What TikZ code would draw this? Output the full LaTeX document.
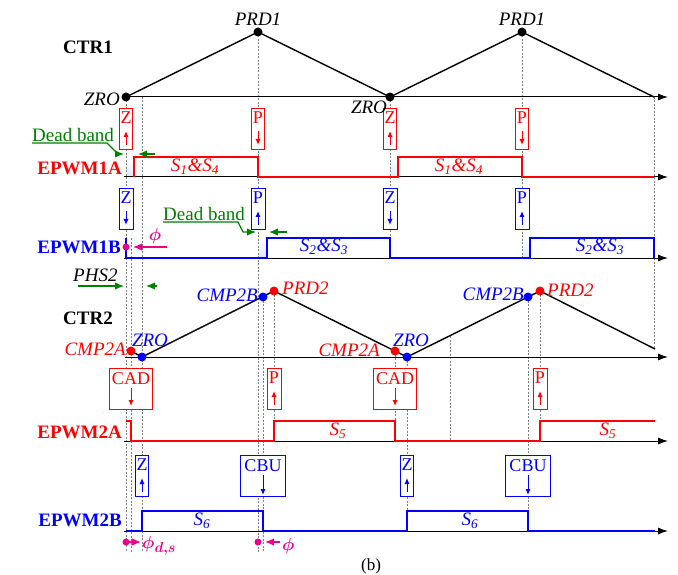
\documentclass[tikz,border=0pt]{standalone}
\usepackage{fontspec}
\setmainfont{Liberation Serif}
\usepackage{bm}
\usetikzlibrary{arrows.meta}
\colorlet{verdure}{green!50!black}

\begin{document}
\begin{tikzpicture}[x=1pt,y=-1pt,
  every node/.style={font=\fontsize{19}{22}\selectfont,inner sep=1pt},
  sig/.style={line width=1.6pt},
  axe/.style={line width=1pt,-{Latex[length=10pt,width=7pt]}},
  guide/.style={gray,line width=0.7pt,dash pattern=on 2pt off 1.5pt},
  evbox/.style={draw,line width=1pt,inner sep=0pt,minimum height=41pt},
  evtip/.style={line width=1pt,-{Latex[length=6pt,width=5pt]}},
  dead/.style={top color=white,bottom color=cyan!25!blue!12},
  fleche/.style={line width=1.3pt,-{Latex[length=9pt,width=7.5pt]}}]

\useasboundingbox (0,0) rectangle (678,575);

% Zones de temps mort
\shade[dead] (126,157) rectangle (134,177);
\shade[dead] (390,157) rectangle (398,177);
\shade[dead] (258,238) rectangle (267,258);
\shade[dead] (522,238) rectangle (530,258);

% Lignes pointillees
\foreach \x/\a/\b in {126/97/552, 131/238/552, 142/97/552, 258/32/552,
  263/297/552, 274/291/441, 390/97/258, 395/351/441, 407/357/531,
  450/336/441, 522/32/258, 528/297/531, 540/291/441, 654/97/349}
  \draw[guide] (\x,\a) -- (\x,\b);

% Axes
\draw[axe] (126,97) -- (668,97);
\draw[axe] (124,177) -- (668,177);
\draw[axe] (124,258) -- (668,258);
\draw[axe] (125,357) -- (668,357);
\draw[axe] (124,441) -- (668,441);
\draw[axe] (124,531) -- (668,531);

% Compteurs
\draw[line width=1.4pt] (126,97) -- (258,32) -- (390,97) -- (522,32) -- (654,97);
\draw[line width=1.4pt] (131,351) -- (142,357) -- (274,291) -- (407,357) -- (540,291) -- (655,349);

% Signaux PWM
\draw[sig,red] (134,177) -- (134,157) -- (258,157) -- (258,177) -- (398,177)
  -- (398,157) -- (522,157) -- (522,177) -- (654,177);
\draw[sig,blue] (126,238) -- (126,258) -- (267,258) -- (267,238) -- (390,238)
  -- (390,258) -- (530,258) -- (530,238) -- (654,238) -- (654,258);
\draw[sig,red] (126,421) -- (131,421) -- (131,441) -- (274,441) -- (274,421)
  -- (395,421) -- (395,441) -- (540,441) -- (540,421) -- (655,421);
\draw[sig,blue] (126,531) -- (142,531) -- (142,511) -- (263,511) -- (263,531)
  -- (407,531) -- (407,511) -- (528,511) -- (528,531) -- (655,531);

% Points des compteurs
\foreach \x/\y in {126/97, 258/32, 390/97, 522/32}
  \fill (\x,\y) circle (4.5);
\foreach \x/\y/\c in {131/351/red, 142/357/blue, 263/297/blue, 274/291/red,
  395/351/red, 407/357/blue, 528/297/blue, 540/291/red}
  \fill[\c] (\x,\y) circle (4.5);

% Evenements
\foreach \x/\y/\w/\c/\t/\s/\e in {126/108/13/red/Z/37/23, 258/108/13/red/P/23/37,
  390/108/13/red/Z/37/23, 522/108/13/red/P/23/37,
  126/188/14/blue/Z/23/37, 258/188/14/blue/P/37/23,
  390/188/14/blue/Z/23/37, 522/188/14/blue/P/37/23,
  131/368/43/red/CAD/20/38, 274/368/14/red/P/37/23,
  395/368/43/red/CAD/20/38, 540/368/14/red/P/37/23,
  142/455/13/blue/Z/37/23, 263/455/45/blue/CBU/20/40,
  407/455/13/blue/Z/37/23, 528/455/45/blue/CBU/20/40}{
  \node[evbox,draw=\c,minimum width=\w pt,anchor=north,fill=white] (b\x-\y) at (\x,\y) {};
  \node[\c,anchor=north,inner sep=0pt,font=\fontsize{18}{20}\selectfont] (t\x-\y) at (\x,\y+4) {\t};
  \draw[evtip,\c] (\x,\y+\s) -- (\x,\y+\e);
}

% Temps morts et dephasage
\node[verdure,anchor=south west,inner sep=0pt] (db1) at (32,142) {Dead band};
\draw[verdure,fleche] (db1.south west) ++(0,1) -- (107,143) -- (118,154) -- (124,154);
\draw[verdure,fleche] (155,154) -- (138,154);
\node[verdure,anchor=south west,inner sep=0pt] (db2) at (163,221) {Dead band};
\draw[verdure,fleche] (db2.south west) ++(0,1) -- (238,222) -- (243,232) -- (256,232);
\draw[verdure,fleche] (287,232) -- (269,232);
\node[anchor=south west,inner sep=0pt] (phs) at (73,282) {\textit{PHS2}};
\draw[verdure,fleche] (78,286) -- (124,286);
\draw[verdure,fleche] (157,286) -- (146,286);

% Angles phi
\fill[magenta] (126,247) circle (3.5);
\draw[magenta,fleche] (167,247) -- (133,247);
\node[magenta] (phi1) at (155,236) {$\bm{\phi}$};
\fill[magenta] (126,542) circle (3.5);
\draw[magenta,fleche] (126,542) -- (141,542);
\node[magenta,anchor=west] (phi2) at (141,546) {$\bm{\phi_{d,s}}$};
\fill[magenta] (258,542) circle (3.5);
\draw[magenta,fleche] (280,542) -- (265,542);
\node[magenta,anchor=west] (phi3) at (281,546) {$\bm{\phi}$};

% Noms des signaux
\node (ctr1) at (88,47) {\bfseries CTR1};
\node (ctr2) at (88,318) {\bfseries CTR2};
\node[red,anchor=east] (pa1) at (123,168) {\bfseries EPWM1A};
\node[blue,anchor=east] (pb1) at (122,247) {\bfseries EPWM1B};
\node[red,anchor=east] (pa2) at (123,432) {\bfseries EPWM2A};
\node[blue,anchor=east] (pb2) at (123,520) {\bfseries EPWM2B};

% Noms des points
\node (prd1a) at (258,19) {\textit{PRD1}};
\node (prd1b) at (522,19) {\textit{PRD1}};
\node[anchor=east] (zro1a) at (121,99) {\textit{ZRO}};
\node (zro1b) at (369,107) {\textit{ZRO}};
\node[red,anchor=east] (cmpa1) at (127,349) {\textit{CMP2A}};
\node[red,anchor=east] (cmpa2) at (381,350) {\textit{CMP2A}};
\node[blue] (zro2a) at (150,340) {\textit{ZRO}};
\node[blue] (zro2b) at (411,340) {\textit{ZRO}};
\node[blue,anchor=east] (cmpb1) at (259,295) {\textit{CMP2B}};
\node[blue,anchor=east] (cmpb2) at (525,294) {\textit{CMP2B}};
\node[red,anchor=west] (prd2a) at (281,288) {\textit{PRD2}};
\node[red,anchor=west] (prd2b) at (546,290) {\textit{PRD2}};

% Etats des interrupteurs
\node[red] (s14a) at (195,167) {\textit{S\textsubscript{1}\&S\textsubscript{4}}};
\node[red] (s14b) at (459,167) {\textit{S\textsubscript{1}\&S\textsubscript{4}}};
\node[blue] (s23a) at (324,247) {\textit{S\textsubscript{2}\&S\textsubscript{3}}};
\node[blue] (s23b) at (600,247) {\textit{S\textsubscript{2}\&S\textsubscript{3}}};
\node[red] (s5a) at (338,431) {\textit{S\textsubscript{5}}};
\node[red] (s5b) at (608,431) {\textit{S\textsubscript{5}}};
\node[blue] (s6a) at (202,521) {\textit{S\textsubscript{6}}};
\node[blue] (s6b) at (470,521) {\textit{S\textsubscript{6}}};

\node[font=\fontsize{17}{20}\selectfont] (leg) at (371,566) {(b)};

\end{tikzpicture}
\end{document}
